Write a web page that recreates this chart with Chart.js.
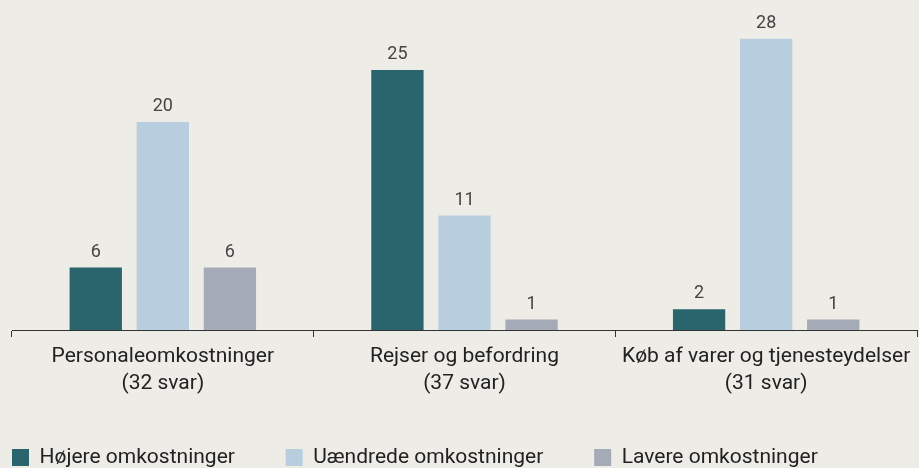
<!DOCTYPE html>
<html>
<head>
<meta charset="utf-8">
<script src="https://cdn.jsdelivr.net/npm/chart.js@4"></script>
<style>
  html, body { margin: 0; padding: 0; background: #eeece7; }
  #wrap { width: 919px; height: 468px; position: relative; }
</style>
</head>
<body>
<div id="wrap"><canvas id="chart"></canvas></div>
<script>
const categories = [
  ["Personaleomkostninger", "(32 svar)"],
  ["Rejser og befordring", "(37 svar)"],
  ["Køb af varer og tjenesteydelser", "(31 svar)"]
];
const seriesNames = ["Højere omkostninger", "Uændrede omkostninger", "Lavere omkostninger"];
const higher = [6, 25, 2];
const unchanged = [20, 11, 28];
const lower = [6, 1, 1];
const colors = ["#2a646c", "#b8cede", "#a4aab6"];

const fontFamily = "Roboto, 'Noto Sans', sans-serif";

// value labels above each bar
const barLabels = {
  id: "barLabels",
  afterDatasetsDraw(chart) {
    const c = chart.ctx;
    c.save();
    c.font = "18px " + fontFamily;
    c.fillStyle = "#444";
    c.textAlign = "center";
    c.textBaseline = "alphabetic";
    chart.data.datasets.forEach((ds, i) => {
      chart.getDatasetMeta(i).data.forEach((bar, j) => {
        c.fillText(ds.data[j], bar.x, bar.y - 11);
      });
    });
    c.restore();
  }
};

// legend starts flush with the axis instead of after its own padding
const legendShift = {
  id: "legendShift",
  afterLayout(chart) {
    chart.legend.left -= chart.legend.options.labels.padding;
  }
};

new Chart(document.getElementById("chart"), {
  type: "bar",
  data: {
    labels: categories,
    datasets: [higher, unchanged, lower].map((d, i) => ({
      label: seriesNames[i],
      data: d,
      backgroundColor: colors[i],
      categoryPercentage: 0.667,
      barPercentage: 0.78
    }))
  },
  options: {
    responsive: true,
    maintainAspectRatio: false,
    animation: false,
    layout: { padding: { top: 18, left: 12, right: 2, bottom: -10 } },
    scales: {
      x: {
        border: { display: true, color: "#333", width: 1 },
        grid: { display: true, drawOnChartArea: false, drawTicks: true, tickLength: 7, color: "#333", offset: true },
        ticks: {
          color: "#222",
          font: { family: fontFamily, size: 21, lineHeight: 1.3 },
          maxRotation: 0,
          autoSkip: false,
          padding: 6
        },
        afterFit(scale) { scale.height = 109; }
      },
      y: {
        display: false,
        min: 0,
        max: 30
      }
    },
    plugins: {
      legend: {
        position: "bottom",
        align: "start",
        labels: {
          color: "#222",
          font: { family: fontFamily, size: 21 },
          boxWidth: 17,
          boxHeight: 17,
          padding: 8,
          // widen the gap between items
          generateLabels(chart) {
            const items = Chart.defaults.plugins.legend.labels.generateLabels(chart);
            items.forEach((it, i) => {
              if (i < items.length - 1) it.text += "\u2003\u2003";
            });
            return items;
          }
        }
      },
      tooltip: { enabled: false }
    }
  },
  plugins: [barLabels, legendShift]
});
</script>
</body>
</html>
